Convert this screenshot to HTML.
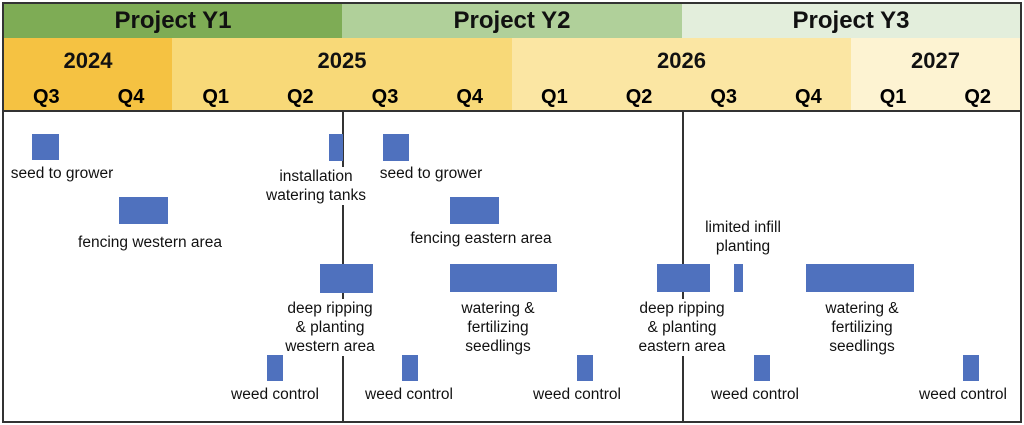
<!DOCTYPE html>
<html><head><style>
body{margin:0;width:1024px;height:425px;background:#fff;position:relative;overflow:hidden;font-family:"Liberation Sans",sans-serif}
.a{position:absolute;box-sizing:border-box}
.h{display:flex;align-items:center;justify-content:center;font-weight:bold;color:#111}
.b{position:absolute;background:#4F71BE}
.t{position:absolute;transform:translateX(-50%);text-align:center;font-size:15.5px;line-height:19px;background:#fff;white-space:nowrap;color:#111;padding:0 1px}
</style></head><body>
<div class="a" style="left:2px;top:2px;width:1020px;height:421px;border:2px solid #333"></div>
<div class="a h" style="left:4px;top:4px;width:338px;height:34px;background:#7EAC55;font-size:24px">Project Y1</div>
<div class="a h" style="left:342px;top:4px;width:340px;height:34px;background:#B0D09A;font-size:24px">Project Y2</div>
<div class="a h" style="left:682px;top:4px;width:338px;height:34px;background:#E3EEDC;font-size:24px">Project Y3</div>
<div class="a h" style="left:4px;top:38px;width:168px;height:72px;background:#F5C242"></div>
<div class="a h" style="left:172px;top:38px;width:340px;height:72px;background:#F8D978"></div>
<div class="a h" style="left:512px;top:38px;width:339px;height:72px;background:#FBE6A3"></div>
<div class="a h" style="left:851px;top:38px;width:169px;height:72px;background:#FDF3D2"></div>
<div class="a h" style="left:4px;top:43px;width:168px;height:36px;font-size:22px">2024</div>
<div class="a h" style="left:172px;top:43px;width:340px;height:36px;font-size:22px">2025</div>
<div class="a h" style="left:512px;top:43px;width:339px;height:36px;font-size:22px">2026</div>
<div class="a h" style="left:851px;top:43px;width:169px;height:36px;font-size:22px">2027</div>
<div class="a" style="left:4px;top:85px;width:1016px;height:24px;display:flex;font-weight:bold;font-size:20px;line-height:24px">
<div style="flex:1;text-align:center">Q3</div><div style="flex:1;text-align:center">Q4</div><div style="flex:1;text-align:center">Q1</div><div style="flex:1;text-align:center">Q2</div><div style="flex:1;text-align:center">Q3</div><div style="flex:1;text-align:center">Q4</div><div style="flex:1;text-align:center">Q1</div><div style="flex:1;text-align:center">Q2</div><div style="flex:1;text-align:center">Q3</div><div style="flex:1;text-align:center">Q4</div><div style="flex:1;text-align:center">Q1</div><div style="flex:1;text-align:center">Q2</div></div>
<div class="a" style="left:4px;top:110px;width:1016px;height:2px;background:#333"></div>
<div class="a" style="left:342px;top:112px;width:2px;height:311px;background:#333"></div>
<div class="a" style="left:682px;top:112px;width:2px;height:311px;background:#333"></div>

<div class="b" style="left:32px;top:134px;width:27px;height:26px"></div>
<div class="b" style="left:329px;top:134px;width:14px;height:27px"></div>
<div class="b" style="left:383px;top:134px;width:26px;height:27px"></div>
<div class="b" style="left:119px;top:197px;width:49px;height:27px"></div>
<div class="b" style="left:450px;top:197px;width:49px;height:27px"></div>
<div class="b" style="left:320px;top:264px;width:53px;height:29px"></div>
<div class="b" style="left:450px;top:264px;width:107px;height:28px"></div>
<div class="b" style="left:657px;top:264px;width:53px;height:28px"></div>
<div class="b" style="left:734px;top:264px;width:9px;height:28px"></div>
<div class="b" style="left:806px;top:264px;width:108px;height:28px"></div>
<div class="b" style="left:267px;top:355px;width:16px;height:26px"></div>
<div class="b" style="left:402px;top:355px;width:16px;height:26px"></div>
<div class="b" style="left:577px;top:355px;width:16px;height:26px"></div>
<div class="b" style="left:754px;top:355px;width:16px;height:26px"></div>
<div class="b" style="left:963px;top:355px;width:16px;height:26px"></div>

<div class="t" style="left:62px;top:164px">seed to grower</div>
<div class="t" style="left:316px;top:167px">installation<br>watering tanks</div>
<div class="t" style="left:431px;top:164px">seed to grower</div>
<div class="t" style="left:150px;top:233px">fencing western area</div>
<div class="t" style="left:481px;top:229px">fencing eastern area</div>
<div class="t" style="left:743px;top:218px">limited infill<br>planting</div>
<div class="t" style="left:330px;top:299px">deep ripping<br>&amp; planting<br>western area</div>
<div class="t" style="left:498px;top:299px">watering &amp;<br>fertilizing<br>seedlings</div>
<div class="t" style="left:682px;top:299px">deep ripping<br>&amp; planting<br>eastern area</div>
<div class="t" style="left:862px;top:299px">watering &amp;<br>fertilizing<br>seedlings</div>
<div class="t" style="left:275px;top:385px">weed control</div>
<div class="t" style="left:409px;top:385px">weed control</div>
<div class="t" style="left:577px;top:385px">weed control</div>
<div class="t" style="left:755px;top:385px">weed control</div>
<div class="t" style="left:963px;top:385px">weed control</div>
</body></html>
